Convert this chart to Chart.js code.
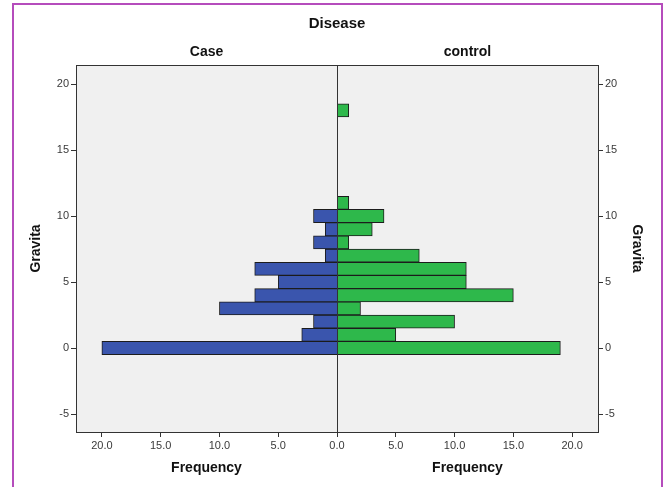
<!DOCTYPE html>
<html>
<head>
<meta charset="utf-8">
<script src="https://cdn.jsdelivr.net/npm/chart.js@4"></script>
<style>
  html, body { margin: 0; padding: 0; background: #fff; }
  #wrap { position: relative; width: 665px; height: 487px; overflow: hidden; }
  #frame { position: absolute; left: 12px; top: 3px; width: 647px; height: 520px; border: 2px solid #b54cbc; border-bottom: none; pointer-events: none; }
</style>
</head>
<body>
<div id="wrap">
  <canvas id="chart" width="665" height="487"></canvas>
  <div id="frame"></div>
</div>
<script>
/* global Chart */

const caseGravita = [0, 1, 2, 3, 4, 5, 6, 7, 8, 9, 10];
const caseFreq = [20, 3, 2, 10, 7, 5, 7, 1, 2, 1, 2];
const controlGravita = [0, 1, 2, 3, 4, 5, 6, 7, 8, 9, 10, 11, 18];
const controlFreq = [19, 5, 10, 2, 15, 11, 11, 7, 1, 3, 4, 1, 1];
const gravitaTicks = [-5, 0, 5, 10, 15, 20];
const caseFreqTicks = [5, 10, 15, 20];
const controlFreqTicks = [0, 5, 10, 15, 20];
const panels = ['Case', 'control'];

const FONT = 'Liberation Sans, Arial, sans-serif';
const LINE = '#333';

const panelPlugin = {
  id: 'panels',
  beforeDraw(chart) {
    const {ctx, chartArea: a} = chart;
    ctx.save();
    ctx.fillStyle = '#f0f0f0';
    ctx.fillRect(a.left, a.top, a.right - a.left, a.bottom - a.top);
    ctx.restore();
  },
  afterDatasetsDraw(chart) {
    const {ctx, chartArea: a, scales} = chart;
    const mid = Math.round(scales.xR.getPixelForValue(0)) + 0.5;
    ctx.save();
    ctx.strokeStyle = LINE;
    ctx.lineWidth = 1;
    ctx.beginPath();
    ctx.moveTo(a.left, Math.round(a.top) + 0.5);
    ctx.lineTo(a.right, Math.round(a.top) + 0.5);
    ctx.moveTo(mid, a.top);
    ctx.lineTo(mid, a.bottom);
    ctx.stroke();
    ctx.fillStyle = '#111';
    ctx.font = 'bold 14px ' + FONT;
    ctx.textAlign = 'center';
    ctx.textBaseline = 'middle';
    ctx.fillText(panels[0], (scales.xL.left + scales.xL.right) / 2, 52);
    ctx.fillText(panels[1], (scales.xR.left + scales.xR.right) / 2, 52);
    ctx.restore();
  }
};

const tickFont = {family: FONT, size: 11};
const titleFont = {family: FONT, size: 14, weight: 'bold'};

const yAxis = (position, width, pad) => ({
  type: 'linear',
  position,
  offset: false,
  min: -6.36,
  max: 21.44,
  afterBuildTicks: s => { s.ticks = gravitaTicks.map(v => ({value: v})); },
  afterFit: s => { s.width = width; },
  grid: {drawOnChartArea: false, offset: false, tickLength: 5, color: LINE},
  border: {color: LINE},
  ticks: {font: tickFont, color: '#3a3a3a', padding: 2, autoSkip: false},
  title: {display: true, text: 'Gravita', font: titleFont, color: '#111', padding: {top: pad, bottom: 0}}
});

const xAxis = (list, reverse) => ({
  type: 'linear',
  position: 'bottom',
  stack: 'freq',
  stackWeight: 1,
  reverse,
  offset: false,
  min: 0,
  max: 22.2,
  afterBuildTicks: s => { s.ticks = list.map(v => ({value: v})); },
  afterFit: s => { s.height = 55; },
  grid: {drawOnChartArea: false, offset: false, tickLength: 5, color: LINE},
  border: {color: LINE},
  ticks: {font: tickFont, color: '#3a3a3a', padding: 2, maxRotation: 0, autoSkip: false, callback: v => Number(v).toFixed(1)},
  title: {display: true, text: 'Frequency', font: titleFont, color: '#111', padding: {top: 0, bottom: 10}}
});

const barStyle = {
  borderColor: '#1c1c1c',
  borderWidth: 1,
  grouped: false,
  barPercentage: 1,
  categoryPercentage: 1
};

new Chart(document.getElementById('chart'), {
  type: 'bar',
  data: {
    datasets: [{
      label: panels[0],
      data: caseGravita.map((g, i) => ({x: caseFreq[i], y: g})),
      xAxisID: 'xL',
      yAxisID: 'y',
      backgroundColor: '#3a55ad',
      ...barStyle
    }, {
      label: panels[1],
      data: controlGravita.map((g, i) => ({x: controlFreq[i], y: g})),
      xAxisID: 'xR',
      yAxisID: 'y',
      backgroundColor: '#2eb84b',
      ...barStyle
    }]
  },
  options: {
    indexAxis: 'y',
    responsive: false,
    animation: false,
    layout: {padding: 0},
    plugins: {
      legend: {display: false},
      tooltip: {enabled: false},
      title: {
        display: true,
        text: 'Disease',
        fullSize: false,
        color: '#111',
        font: {family: FONT, size: 15, weight: 'bold'},
        padding: {top: 15, bottom: 32}
      }
    },
    scales: {
      y: yAxis('left', 76, 28),
      y2: yAxis('right', 67, 20),
      xL: xAxis(caseFreqTicks, true),
      xR: xAxis(controlFreqTicks, false)
    }
  },
  plugins: [panelPlugin]
});
</script>
</body>
</html>
